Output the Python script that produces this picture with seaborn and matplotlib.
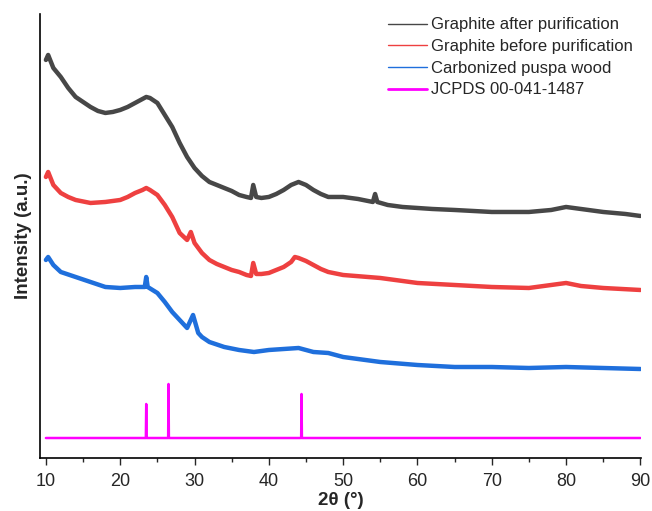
import pandas as pd
import matplotlib.pyplot as plt
import seaborn as sns
from matplotlib.ticker import MultipleLocator

# values (stacked, arbitrary units)
after_x = [10, 10.3, 11, 12, 13, 14, 15, 16, 17, 18, 19, 20, 21, 22, 23, 23.5, 24, 25, 26, 27,
           28, 29, 30, 31, 32, 33, 34, 35, 36, 37, 37.6, 37.9, 38.3, 39, 40, 41, 42, 43, 44, 45,
           46, 47, 48, 50, 52, 54, 54.3, 54.6, 56, 58, 60, 62, 65, 70, 75, 78, 80, 82, 85, 88, 90]
after_y = [398, 403, 390, 381, 370, 361, 356, 351, 347, 345, 346, 348, 351, 355, 359, 361, 360, 355, 343, 331,
           315, 301, 290, 282, 276, 273, 270, 267, 263, 261, 260, 273, 261, 260, 261, 264, 268, 273, 276, 273,
           268, 264, 261, 261, 259, 256, 264, 256, 253, 251, 250, 249, 248, 246, 246, 248, 251, 249, 246, 244, 242]

before_x = [10, 10.3, 11, 12, 13, 14, 16, 18, 20, 21, 22, 23, 23.5, 24, 25, 26, 27, 28, 29, 29.5,
            30, 30.5, 31, 32, 33, 34, 35, 36, 37, 37.6, 37.9, 38.3, 39, 40, 41, 42, 43, 43.5, 44, 45,
            46, 47, 48, 50, 55, 60, 65, 70, 75, 78, 80, 82, 85, 90]
before_y = [281, 286, 273, 265, 261, 258, 255, 256, 258, 261, 265, 268, 270, 268, 263, 253, 241, 225, 218, 226,
            215, 210, 205, 198, 194, 191, 188, 186, 183, 182, 195, 184, 184, 185, 188, 191, 196, 201, 200, 197,
            193, 189, 186, 183, 180, 175, 173, 171, 170, 173, 175, 172, 170, 168]

wood_x = [10, 10.3, 11, 12, 14, 16, 18, 20, 22, 23.3, 23.5, 23.7, 25, 26, 27, 28, 29, 29.8, 30.5, 31,
          32, 34, 36, 38, 40, 42, 44, 46, 48, 50, 55, 60, 65, 70, 75, 80, 85, 90]
wood_y = [198, 201, 193, 186, 181, 176, 171, 170, 171, 171, 181, 171, 165, 156, 146, 138, 130, 143, 125, 121,
          116, 111, 108, 106, 108, 109, 110, 106, 105, 101, 96, 93, 91, 91, 90, 91, 90, 89]

ref_x = [10, 23.45, 23.5, 23.55, 26.45, 26.5, 26.55, 44.35, 44.4, 44.45, 90]
ref_y = [20, 20, 54, 20, 20, 74, 20, 20, 64, 20, 20]

labels = ['Graphite after purification', 'Graphite before purification',
          'Carbonized puspa wood', 'JCPDS 00-041-1487']
colors = ['#474747', '#ee4040', '#1f6fdc', '#ff00ff']

frames = []
for lab, xs, ys in zip(labels, [after_x, before_x, wood_x, ref_x], [after_y, before_y, wood_y, ref_y]):
    frames.append(pd.DataFrame({'two_theta': xs, 'intensity': ys, 'sample': lab}))
df = pd.concat(frames, ignore_index=True)

sns.set_style('ticks')
plt.rcParams['font.family'] = ['Liberation Sans', 'DejaVu Sans']

fig = plt.figure(figsize=(6.52, 5.11), dpi=100)
ax = fig.add_axes([0.0613, 0.1037, 0.922, 0.869])

sns.lineplot(data=df, x='two_theta', y='intensity', hue='sample', hue_order=labels,
             palette=colors, estimator=None, sort=False, linewidth=3.2, ax=ax)
ax.get_lines()[3].set_linewidth(1.8)

ax.set_xlim(9.2, 90.1)
ax.set_ylim(0, 444)
ax.xaxis.set_major_locator(MultipleLocator(10))
ax.xaxis.set_minor_locator(MultipleLocator(5))
ax.tick_params(axis='x', which='major', labelsize=13, length=5, width=1, direction='out', pad=6)
ax.tick_params(axis='x', which='minor', length=3, width=1, direction='out')
ax.set_yticks([])
for s in ['top', 'right']:
    ax.spines[s].set_visible(False)
for s in ['left', 'bottom']:
    ax.spines[s].set_linewidth(1.2)
    ax.spines[s].set_color('black')

ax.set_xlabel('2θ (°)', fontsize=13.5, fontweight='bold', labelpad=1)
ax.set_ylabel('Intensity (a.u.)', fontsize=13.5, fontweight='bold', labelpad=6)

leg = ax.legend(loc='upper right', bbox_to_anchor=(1.011, 1.026), frameon=False, fontsize=12,
                handlelength=2.35, handletextpad=0.25, labelspacing=0.4)
for i, line in enumerate(leg.get_lines()):
    line.set_linewidth(2 if i == 3 else 1)

fig.savefig('out.png', dpi=100)
